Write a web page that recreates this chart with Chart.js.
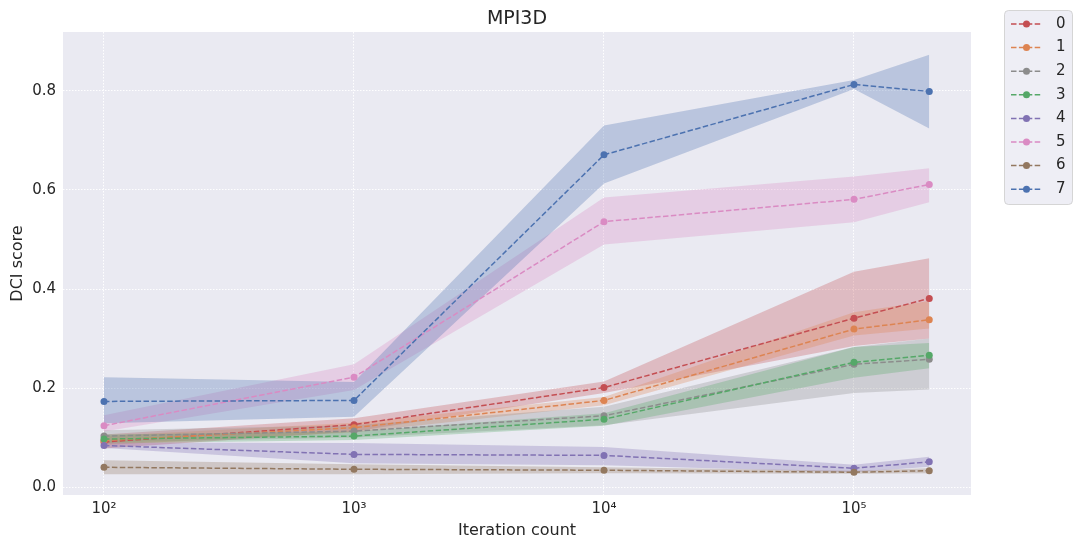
<!DOCTYPE html>
<html>
<head>
<meta charset="utf-8">
<script src="https://cdn.jsdelivr.net/npm/chart.js@4/dist/chart.umd.min.js"></script>
<style>
  html, body { margin: 0; padding: 0; background: #fff; }
  #wrap { width: 1077px; height: 544px; }
</style>
</head>
<body>
<div id="wrap"><canvas id="grafica" width="1077" height="544"></canvas></div>
<script>
const iteraciones = [100, 1000, 10000, 100000, 200000];
const nombres = ["0", "1", "2", "3", "4", "5", "6", "7"];
const colores = ["#C44E52", "#DD8452", "#8C8C8C", "#55A868", "#8172B3", "#DA8BC3", "#937860", "#4C72B0"];
const ticksX = [100, 1000, 10000, 100000];
const ticksY = [0, 0.2, 0.4, 0.6, 0.8];

// media por serie
const medias = [
  [0.091, 0.126, 0.201, 0.341, 0.381],
  [0.094, 0.120, 0.175, 0.319, 0.338],
  [0.103, 0.113, 0.144, 0.248, 0.258],
  [0.097, 0.103, 0.137, 0.252, 0.266],
  [0.084, 0.066, 0.064, 0.038, 0.051],
  [0.124, 0.222, 0.536, 0.581, 0.611],
  [0.040, 0.036, 0.034, 0.030, 0.033],
  [0.173, 0.175, 0.671, 0.813, 0.799]
];
// limites inferior / superior de la banda
const bandaBaja = [
  [0.078, 0.112, 0.190, 0.285, 0.300],
  [0.085, 0.110, 0.165, 0.306, 0.320],
  [0.090, 0.100, 0.125, 0.190, 0.197],
  [0.088, 0.095, 0.124, 0.221, 0.240],
  [0.079, 0.048, 0.044, 0.030, 0.041],
  [0.112, 0.196, 0.490, 0.535, 0.575],
  [0.026, 0.026, 0.028, 0.027, 0.028],
  [0.129, 0.142, 0.613, 0.804, 0.724]
];
const bandaAlta = [
  [0.106, 0.139, 0.213, 0.435, 0.462],
  [0.103, 0.130, 0.182, 0.353, 0.376],
  [0.115, 0.125, 0.162, 0.283, 0.300],
  [0.106, 0.112, 0.149, 0.283, 0.291],
  [0.090, 0.089, 0.081, 0.045, 0.061],
  [0.145, 0.248, 0.585, 0.627, 0.644],
  [0.054, 0.046, 0.040, 0.033, 0.038],
  [0.222, 0.212, 0.730, 0.822, 0.873]
];

const puntos = vals => iteraciones.map((x, i) => ({ x: x, y: vals[i] }));
const conAlfa = (hex, a) => {
  const n = parseInt(hex.slice(1), 16);
  return `rgba(${n >> 16}, ${(n >> 8) & 255}, ${n & 255}, ${a})`;
};

const datasets = [];
// bandas primero (debajo de todas las lineas)
nombres.forEach((nombre, i) => {
  datasets.push({
    data: puntos(bandaAlta[i]),
    borderWidth: 0,
    pointRadius: 0,
    backgroundColor: conAlfa(colores[i], 0.3),
    fill: "+1",
    order: 100 - i,
    esBanda: true
  });
  datasets.push({
    data: puntos(bandaBaja[i]),
    borderWidth: 0,
    pointRadius: 0,
    fill: false,
    order: 100 - i,
    esBanda: true
  });
});
nombres.forEach((nombre, i) => {
  datasets.push({
    label: nombre,
    data: puntos(medias[i]),
    borderColor: colores[i],
    backgroundColor: colores[i],
    borderWidth: 1.5,
    borderDash: [5.5, 2.4],
    pointRadius: 3.5,
    pointBorderWidth: 0,
    pointBackgroundColor: colores[i],
    fill: false,
    order: 50 - i
  });
});

const sup = { 2: "\u00B2", 3: "\u00B3", 4: "\u2074", 5: "\u2075" };

const fondo = {
  id: "fondo",
  beforeDraw(chart) {
    const { ctx, chartArea: a } = chart;
    ctx.save();
    ctx.fillStyle = "#ffffff";
    ctx.fillRect(0, 0, chart.width, chart.height);
    ctx.fillStyle = "#EAEAF2";
    ctx.fillRect(a.left, a.top, a.right - a.left, a.bottom - a.top);
    ctx.restore();
  },
  afterDraw(chart) {
    const { ctx, chartArea: a } = chart;
    ctx.save();
    // titulo
    ctx.fillStyle = "#262626";
    ctx.font = "19px 'DejaVu Sans'";
    ctx.textAlign = "center";
    ctx.textBaseline = "middle";
    ctx.fillText("MPI3D", (a.left + a.right) / 2, 19);

    // leyenda
    const lx = 1004.5, ly = 10.5, lw = 68, lh = 194, r = 4;
    ctx.beginPath();
    ctx.moveTo(lx + r, ly);
    ctx.arcTo(lx + lw, ly, lx + lw, ly + lh, r);
    ctx.arcTo(lx + lw, ly + lh, lx, ly + lh, r);
    ctx.arcTo(lx, ly + lh, lx, ly, r);
    ctx.arcTo(lx, ly, lx + lw, ly, r);
    ctx.closePath();
    ctx.fillStyle = "rgba(234, 234, 242, 0.8)";
    ctx.fill();
    ctx.strokeStyle = "rgba(204, 204, 204, 0.8)";
    ctx.lineWidth = 1;
    ctx.stroke();

    const lineas = chart.data.datasets.filter(d => !d.esBanda);
    lineas.forEach((d, i) => {
      const y = 24 + i * 23.6;
      ctx.strokeStyle = d.borderColor;
      ctx.lineWidth = 1.5;
      ctx.setLineDash([5.5, 2.4]);
      ctx.beginPath();
      ctx.moveTo(1011, y);
      ctx.lineTo(1042, y);
      ctx.stroke();
      ctx.setLineDash([]);
      ctx.fillStyle = d.borderColor;
      ctx.beginPath();
      ctx.arc(1026.5, y, 3.5, 0, Math.PI * 2);
      ctx.fill();
      ctx.fillStyle = "#262626";
      ctx.font = "15px 'DejaVu Sans'";
      ctx.textAlign = "left";
      ctx.fillText(d.label, 1056, y);
    });
    ctx.restore();
  }
};

const ctx = document.getElementById("grafica").getContext("2d");
new Chart(ctx, {
  type: "line",
  data: { datasets: datasets },
  plugins: [fondo],
  options: {
    responsive: false,
    animation: false,
    layout: { padding: { top: 32, right: 106, left: 0, bottom: 0 } },
    plugins: {
      legend: { display: false },
      tooltip: { enabled: false },
      filler: { propagate: false }
    },
    scales: {
      x: {
        type: "logarithmic",
        min: 68.55,
        max: 293765,
        bounds: "data",
        afterBuildTicks: s => { s.ticks = ticksX.map(v => ({ value: v })); },
        afterFit: s => { s.height = 49; },
        border: { display: false, dash: [1.5, 1.5] },
        grid: { color: "rgba(255,255,255,0.95)", lineWidth: 1, drawTicks: false },
        ticks: {
          color: "#262626",
          font: { family: "DejaVu Sans", size: 15 },
          padding: 5,
          maxRotation: 0,
          autoSkip: false,
          callback: v => "10" + sup[Math.round(Math.log10(v))]
        },
        title: {
          display: true,
          text: "Iteration count",
          color: "#262626",
          font: { family: "DejaVu Sans", size: 16 },
          padding: { top: 0, bottom: 4 }
        }
      },
      y: {
        type: "linear",
        min: -0.016,
        max: 0.919,
        bounds: "data",
        afterBuildTicks: s => { s.ticks = ticksY.map(v => ({ value: v })); },
        afterFit: s => { s.width = 63; },
        border: { display: false, dash: [1.5, 1.5] },
        grid: { color: "rgba(255,255,255,0.95)", lineWidth: 1, drawTicks: false },
        ticks: {
          color: "#262626",
          font: { family: "DejaVu Sans", size: 15 },
          padding: 7,
          callback: v => v.toFixed(1)
        },
        title: {
          display: true,
          text: "DCI score",
          color: "#262626",
          font: { family: "DejaVu Sans", size: 16 },
          padding: { top: 8, bottom: 0 }
        }
      }
    }
  }
});
</script>
</body>
</html>
